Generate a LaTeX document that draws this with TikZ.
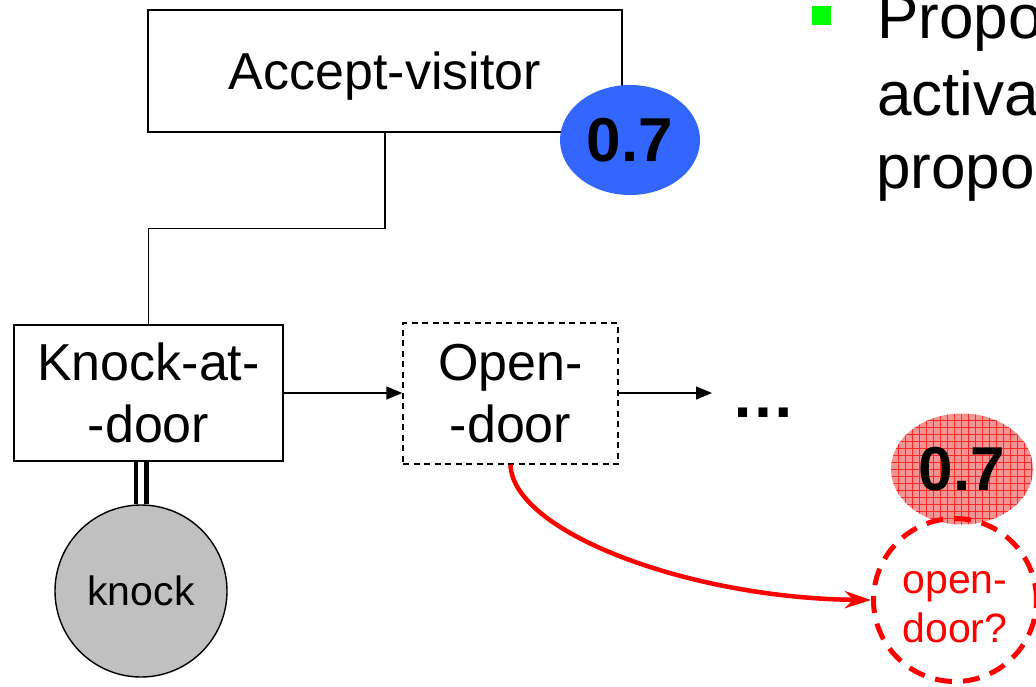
\documentclass[tikz,border=0pt]{standalone}
\usepackage{fontspec}
\setmainfont{Liberation Sans}
\usetikzlibrary{arrows.meta,shapes.geometric,calc}
\definecolor{vblue}{HTML}{3366FF}
\definecolor{vgreen}{HTML}{00FF00}
\definecolor{vgray}{HTML}{C0C0C0}
\definecolor{vpink}{HTML}{F59494}
\begin{document}
\begin{tikzpicture}[x=1pt,y=-1pt,
  stepbox/.style={draw, line width=1.4pt, inner sep=0pt, align=center,
    font=\fontsize{52}{62}\selectfont},
  conn/.style={line width=1.4pt},
  arr/.style={line width=1.4pt, -{Triangle[length=16pt,width=13pt]}},
  weight/.style={ellipse, inner sep=0pt, font=\fontsize{62}{62}\selectfont\bfseries},
  redarr/.style={red, line width=4.5pt, -{Stealth[length=26pt,width=17pt,inset=8pt]}},
  bigtext/.style={anchor=base west, inner sep=0pt, font=\fontsize{62}{62}\selectfont}]
\useasboundingbox (0,0) rectangle (1036,686);
\clip (0,0) rectangle (1036,686);

% boxes
\node[stepbox, text depth=0pt, minimum width=474pt, minimum height=122pt] (accept) at (385,71) {Accept-visitor};
\node[stepbox, minimum width=269pt, minimum height=136pt] (knock) at (148.5,393) {Knock-at-\\-door};
\node[stepbox, dash pattern=on 6pt off 4.5pt, minimum width=215pt, minimum height=141pt] (open) at (510.5,393.5) {Open-\\-door};

% connectors
\draw[conn] (accept.south) -- ++(0,96) -| (knock.north);
\draw[arr] (knock.east |- 0,393) -- (open.west |- 0,393);
\coordinate (dotsend) at (712,393);
\draw[arr] (open.east |- 0,393) -- (dotsend);
\node[inner sep=0pt, font=\fontsize{64}{64}\selectfont\bfseries] (dots) at (763.5,413) {…};

% blue weight
\node[weight, fill=vblue, minimum width=140pt, minimum height=110pt] (w1) at (630,140) {0.7};

% knock sensor
\node[circle, draw, line width=1.4pt, fill=vgray, minimum size=172pt, inner sep=0pt,
  font=\fontsize{41}{41}\selectfont] (kc) at (141,591) {knock};
\draw[line width=4.5pt, double=white, double distance=6pt] (knock.south -| kc.north) -- (kc.north);

% red weight with grid
\node[weight, fill=vpink, minimum width=142pt, minimum height=111pt,
  path picture={\draw[red!85, line width=0.5pt, step=7pt]
    (path picture bounding box.south west) grid (path picture bounding box.north east);}]
  (w2) at (962,469) {0.7};

% hypothesised step
\node[circle, draw=red, line width=5pt, dash pattern=on 17pt off 11pt,
  minimum size=163pt, inner sep=0pt] (q) at (955,600) {};
\node[inner sep=0pt, align=center, text=red, font=\fontsize{41}{49}\selectfont] (qtext) at (955,607) {open-\\door?};
\draw[redarr] (open.south) .. controls +(2,67) and +(-183,-2) .. (q.west);

% bullet text
\node[fill=vgreen, minimum size=19pt, inner sep=0pt] (bullet) at (821.5,15.5) {};
\node[bigtext] (t1) at (877,38) {Propo};
\node[bigtext] (t2) at (877,115) {activa};
\node[bigtext] (t3) at (876,188) {propo};
\end{tikzpicture}
\end{document}
